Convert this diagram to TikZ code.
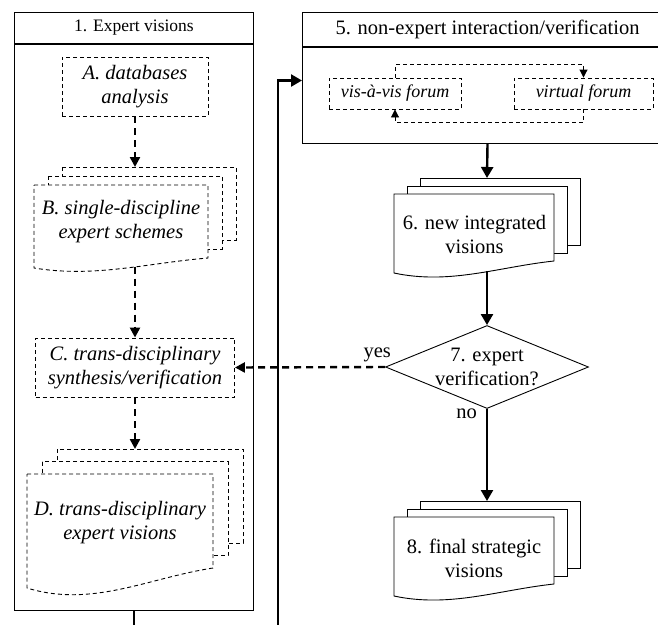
\documentclass[tikz,border=0pt]{standalone}
\usepackage{fontspec}
\setmainfont{Liberation Serif}
\usetikzlibrary{arrows.meta,shapes.geometric}

% document stack: style, left x, top y, width, height, wave, dx, dy, name
\newcommand*{\docstack}[9]{%
	\foreach \k in {2,1}
		\draw[#1,fill=white] ({#2+\k*#7},{#3-\k*#8}) rectangle ({#2+#4+\k*#7},{#3+#5-\k*#8});
	\draw[#1,fill=white] (#2,#3) -- ({#2+#4},#3) -- ({#2+#4},{#3+#5})
		.. controls ({#2+0.65*#4},{#3+#5+0.5*#6}) and ({#2+0.35*#4},{#3+#5+2*#6}) .. (#2,{#3+#5+#6}) -- cycle;
	\coordinate (#9-in) at ({#2+0.5*#4+#7},{#3-2*#8});
	\coordinate (#9-out) at ({#2+0.5*#4+#7},{#3+#5+0.85*#6});
}

\begin{document}
\begin{tikzpicture}
[
	x=1pt, y=-1pt,
	every node/.style={font=\fontsize{20.5}{24}\selectfont, align=center},
	frame/.style={draw,line width=1pt,inner sep=0pt},
	task/.style={draw,line width=0.9pt,dash pattern=on 4pt off 3pt,inner sep=0pt,font=\fontsize{20.5}{24}\selectfont\itshape},
	ital/.style={font=\fontsize{20.5}{24}\selectfont\itshape},
	docline/.style={line width=0.9pt},
	docdash/.style={line width=0.9pt,dash pattern=on 4pt off 3pt},
	flow/.style={line width=2.4pt,-{Triangle[length=11pt,width=12pt]}},
	dflow/.style={line width=2.4pt,dash pattern=on 7pt off 5pt,-{Triangle[length=10pt,width=10pt]}},
	fflow/.style={line width=0.9pt,dash pattern=on 4pt off 3pt,-{Triangle[length=8pt,width=8pt]}}
]
	\useasboundingbox (0,0) rectangle (658,624);
	\clip (0,0) rectangle (658,624);

	% frames
	\node[frame,minimum width=239pt,minimum height=31pt,anchor=north west,font=\fontsize{17.5}{20}\selectfont] (hdrone) at (14,12) {1. Expert visions};
	\node[frame,minimum width=239pt,minimum height=566pt,anchor=north] (boxone) at (hdrone.south) {};
	\node[frame,minimum width=370pt,minimum height=34pt,anchor=north west] (hdrfive) at (302,12) {5. non-expert interaction/verification};
	\node[frame,minimum width=370pt,minimum height=96pt,anchor=north] (boxfive) at (hdrfive.south) {};

	% forums
	\node[task,minimum width=132pt,minimum height=31pt,font=\fontsize{18}{20}\selectfont\itshape] (vis) at (395,93.5) {vis-à-vis forum};
	\node[task,minimum width=139pt,minimum height=31pt,font=\fontsize{18}{20}\selectfont\itshape] (virt) at (583.5,93.5) {virtual forum};
	\draw[fflow] (vis.north) -- ++(0,-13) -| (virt.north);
	\draw[fflow] (virt.south) -- ++(0,13) -| (vis.south);

	% expert side
	\node[task,minimum width=146pt,minimum height=59pt] (dba) at (135,86.5) {A. databases\\analysis};
	\docstack{docdash}{34}{185}{174}{73}{10}{14}{9}{sch}
	\node[ital] (schtext) at (121,221.5) {B. single-discipline\\expert schemes};
	\node[task,minimum width=199pt,minimum height=59pt] (syn) at (135,367.5) {C. trans-disciplinary\\synthesis/verification};
	\docstack{docdash}{27}{474}{186}{94}{20}{15}{12.5}{exv}
	\node[ital] (exvtext) at (120,522.5) {D. trans-disciplinary\\expert visions};

	% non-expert side
	\docstack{docline}{394}{194}{160}{67}{12}{13}{8}{niv}
	\node (nivtext) at (474.5,234.5) {6. new integrated\\visions};
	\node[draw,diamond,line width=0.9pt,minimum width=203pt,minimum height=83pt,inner sep=0pt,
		label={[align=center]center:7. expert\\verification?}] (verify) at (487,367) {};
	\node[inner sep=0pt,anchor=south east] (yes) at ([xshift=6pt,yshift=5pt]verify.west) {yes};
	\node[inner sep=0pt,anchor=north east] (no) at ([xshift=-10pt]verify.south) {no};
	\docstack{docline}{394}{517}{160}{67}{12}{13}{8}{fsv}
	\node (fsvtext) at (474,558.5) {8. final strategic\\visions};

	% connectors
	\coordinate (loop) at (278,650);
	\draw[flow] (boxone.south) |- (loop) |- ([yshift=15pt]boxfive.west);
	\draw[dflow] (dba.south) -- (sch-in);
	\draw[dflow] (sch-out) -- (syn.north);
	\draw[dflow] (syn.south) -- (exv-in);
	\draw[flow] (boxfive.south) -- (niv-in);
	\draw[flow] (niv-out) -- (verify.north);
	\draw[flow] (verify.south) -- (fsv-in);
	\draw[dflow] (verify.west) -- (syn.east);

\end{tikzpicture}
\end{document}
